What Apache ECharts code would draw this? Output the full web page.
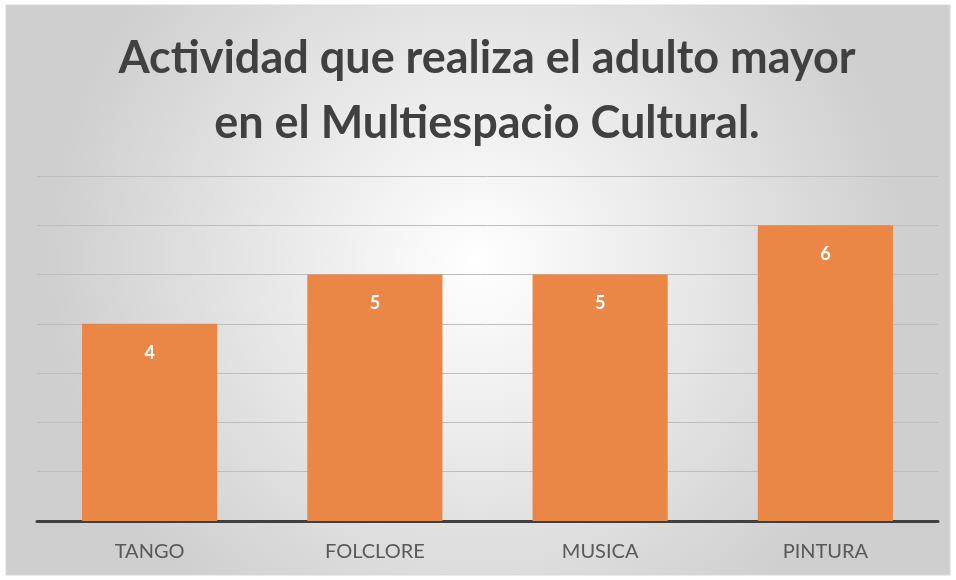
<!DOCTYPE html>
<html><head><meta charset="utf-8">
<script src="https://cdn.jsdelivr.net/npm/echarts@6/dist/echarts.min.js"></script>
<style>html,body{margin:0;padding:0;background:#fff}#c{width:956px;height:580px}</style>
</head><body><div id="c"></div>
<script>
const categories = ['TANGO', 'FOLCLORE', 'MUSICA', 'PINTURA'];
const values = [4, 5, 5, 6];
const titleLines = ['Actividad que realiza el adulto mayor', 'en el Multiespacio Cultural.'];

const chart = echarts.init(document.getElementById('c'));
chart.setOption({
  animation: false,
  graphic: [{
    type: 'rect', z: -10, silent: true,
    shape: {x: 6, y: 5, width: 944, height: 570},
    style: {
      fill: new echarts.graphic.RadialGradient(0.5, 0.45, 0.75, [
        {offset: 0, color: '#ffffff'}, {offset: 1, color: '#cfcfcf'}
      ]),
      stroke: '#d8d8d8', lineWidth: 1
    }
  }],
  title: {
    text: titleLines.join('\n'),
    left: 482, top: 21, textAlign: 'center',
    textStyle: {fontFamily: 'Lato', fontWeight: 'bold', fontSize: 45, color: '#404040', lineHeight: 65}
  },
  grid: {left: 37, right: 18, top: 176, bottom: 59},
  xAxis: {
    type: 'category', data: categories,
    axisLine: {lineStyle: {color: '#404040', width: 3}},
    axisTick: {show: false},
    axisLabel: {color: '#595959', fontSize: 20, fontFamily: 'Lato', margin: 21}
  },
  yAxis: {
    type: 'value', min: 0, max: 7, interval: 1,
    axisLabel: {show: false}, axisLine: {show: false}, axisTick: {show: false},
    splitLine: {lineStyle: {color: '#bdbdbd', width: 1}}
  },
  series: [{
    type: 'bar', data: values, barWidth: '60%',
    itemStyle: {color: '#EA8747'},
    label: {show: true, position: 'insideTop', distance: 20, color: '#ffffff', fontWeight: 'bold', fontSize: 18, fontFamily: 'Lato'}
  }]
});
</script></body></html>
